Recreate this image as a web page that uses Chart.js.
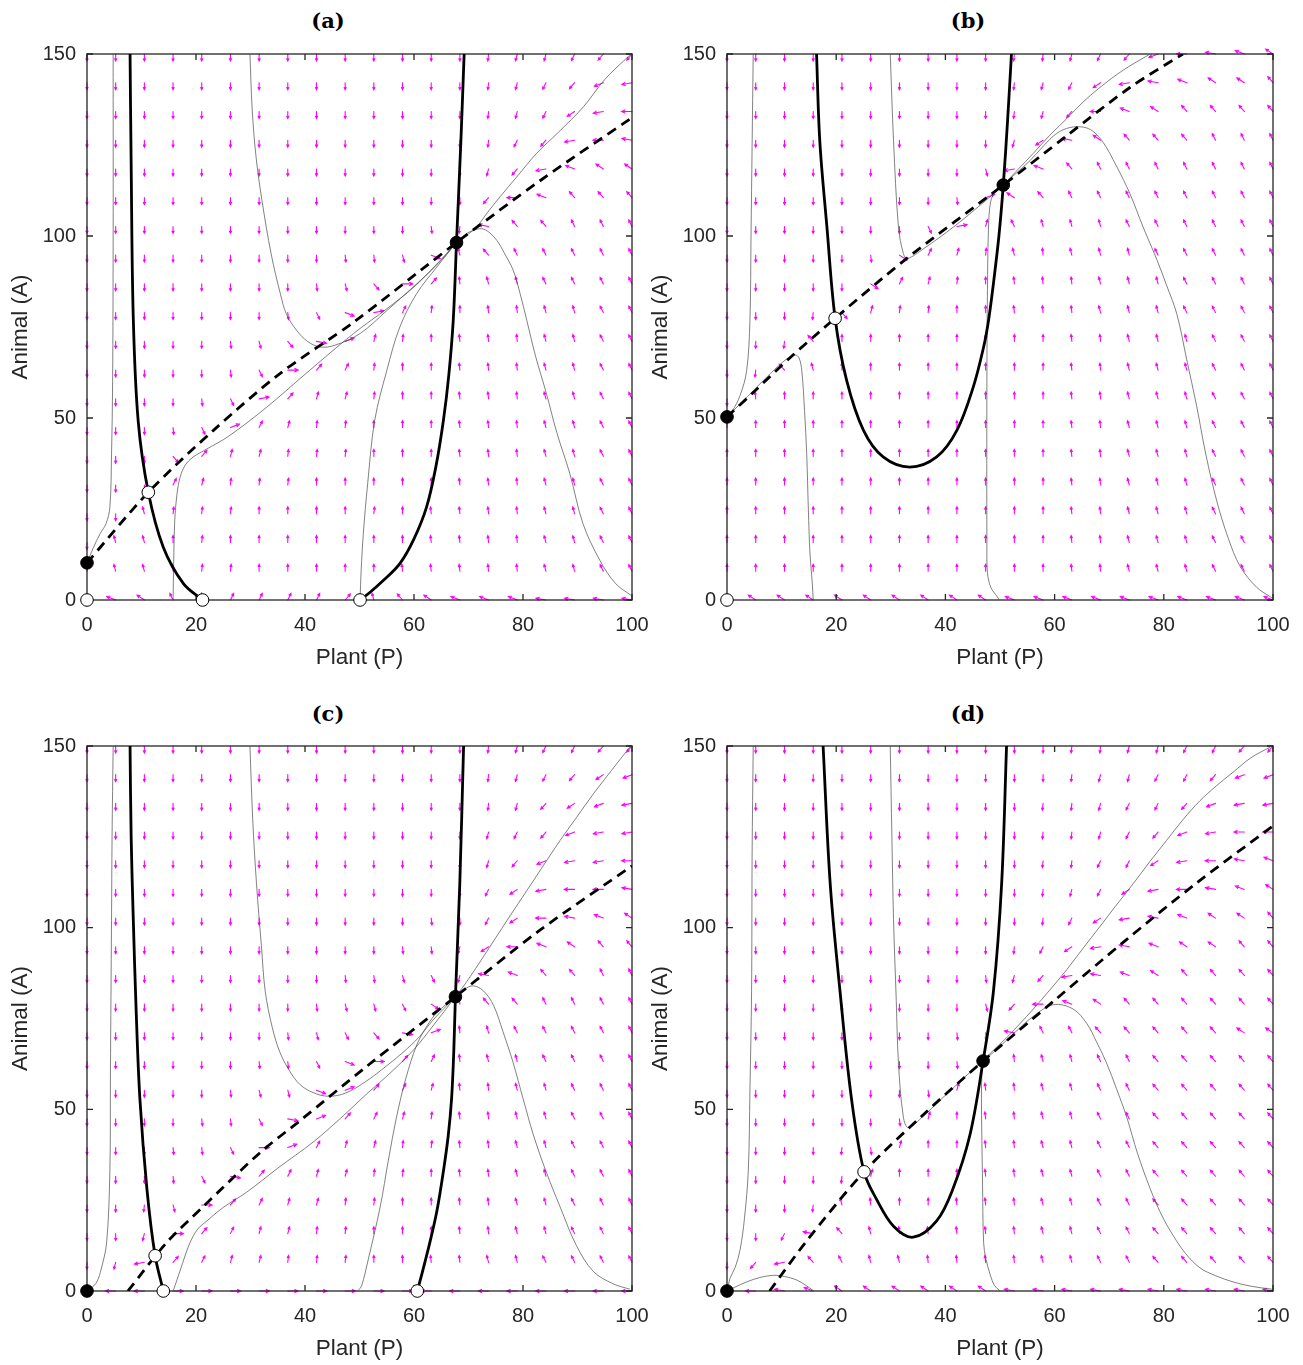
<!DOCTYPE html>
<html>
<head>
<meta charset="utf-8">
<script src="https://cdn.jsdelivr.net/npm/chart.js@4.4.0/dist/chart.umd.min.js"></script>
<style>
  body { margin: 0; background: #fff; width: 1303px; height: 1365px; position: relative; overflow: hidden; }
  canvas { position: absolute; }
  .ttl { position: absolute; font: bold 21px "DejaVu Serif", serif; color: #000; transform: translate(-50%, -50%); white-space: nowrap; }
</style>
</head>
<body>
<div class="ttl" style="left:328px;top:20px">(a)</div>
<div class="ttl" style="left:968px;top:20px">(b)</div>
<div class="ttl" style="left:328px;top:713px">(c)</div>
<div class="ttl" style="left:968px;top:713px">(d)</div>
<canvas id="pa" width="662" height="674" style="left:0;top:0"></canvas>
<canvas id="pb" width="663" height="674" style="left:640px;top:0"></canvas>
<canvas id="pc" width="662" height="673" style="left:0;top:692px"></canvas>
<canvas id="pd" width="663" height="673" style="left:640px;top:692px"></canvas>
<script>
/*
    Quiver grid (Plant P, Animal A)
*/
const gridP = [0, 5.26, 10.53, 15.79, 21.05, 26.32, 31.58, 36.84, 42.11, 47.37, 52.63, 57.89, 63.16, 68.42, 73.68, 78.95, 84.21, 89.47, 94.74, 100];
const gridA = [0, 7.89, 15.79, 23.68, 31.58, 39.47, 47.37, 55.26, 63.16, 71.05, 78.95, 86.84, 94.74, 102.63, 110.53, 118.42, 126.32, 134.21, 142.11, 150];

// direction codes -> angle (degrees) in the (P, A) plane
const arrowAngle = {
    D: -90, e: -86, f: -80, g: -72, h: -60, i: -45, j: -30, k: -15,
    E: -94, F: -100, G: -108, H: -120, I: -135, J: -150, K: -165,
    U: 90, p: 86, q: 80, r: 72, s: 60, t: 45, u: 30, w: 15,
    P: 94, Q: 100, R: 108, S: 120, T: 135, W: 150, X: 165,
    '>': 0, '<': 180
};

// rows from A = 150 (top) down to A = 0, columns P = 0 .. 100
const fieldA = [
    'DDDDDDDDDDDDDDEFFGHH',
    'DDDDDDDDDDDDDDEFGHJK',
    'DDDDDDDDDDDDDDEFGIK<',
    'DDDDDDDDDDDDDDEGHK<X',
    'DDDDDDDDDDDDDDFHKWTT',
    'DDDDDDDDDDDDDDH<WSSS',
    'DDDDDDDDDDDDeEXSSRRR',
    'DDDDDDDDDeefjQSRRRRR',
    'DDDDDDDDefh>sPQQRRRR',
    'DDDDDDDegjwrpUPPQQRR',
    'DDDDDefhkuqpUPPPQQRR',
    'DDDDDeg>srpUUPPPQQRR',
    'DDDDegwsqqpUUPPPQQRR',
    'DDDegurqppUUUPPPQQRR',
    'DDDhsqqpppUUUPPPQQRR',
    'DDDrqpppUUUUUPPPQQRR',
    'DDQpppUUUUpUPPPPQQRR',
    'DQQUpUUUUUUUPPPPQQRR',
    'UQQPppUUUUUPPPPPQQRR',
    '.WTRUrrrrsQSTWWWXXXX'
];
const fieldB = [
    'DDDDDDDDDDEEFGHJ<XWT',
    'DDDDDDDDDDEFGIKXWTTS',
    'DDDDDDDDDDEFH<WTSSSS',
    'DDDDDDDDDDFIXTSSSRRR',
    'DDDDDDDDDfKWSRRRRRRR',
    'DDDDDDDDeuTSRRRRRRRR',
    'DDDDDDDgwqRQQQRRRRRR',
    'DDDDDeirqpQPQQQRRRRR',
    'DDDDDirqpUPPPQQQRRRR',
    'DDDEhqppUUPPPQQQRRRR',
    'DDESUUUUUUUUPPQQQRRR',
    'DESQUUUUUUUUPPQQQRRR',
    'DPUUUUUUUUUUPPQQQRRR',
    'UUUUUUUUUUUUPPQQQRRR',
    'UUUUUUUUUUUUPPQQQRRR',
    'UUUUUUUUUUUUPPQQQRRR',
    'UUUUUUUUUUUUPPQQQRRR',
    'UUUUUUUUUUUUPPQQQRRR',
    'UUUUUUUUUUUUPPQQQRRR',
    '.TTTTTTTTTWWWWWWWWWW'
];
const fieldC = [
    'DDDDDDDDDDDDDDEFGGHH',
    'DDDDDDDDDDDDDDEFGHIJ',
    'DDDDDDDDDDDDDDEFHIJK',
    'DDDDDDDDDDDDDDFGHJKK',
    'DDDDDDDDDDDDDDFHJKK<',
    'DDDDDDDDDDDDDDGIK<<X',
    'DDDDDDDDDDDDeDGI<XWT',
    'DDDDDDDDDDDeeFI<WTSS',
    'DDDDDDDDDeefgFXWSSRR',
    'DDDDDDDDeffgiPSSRRRR',
    'DDDDDDDefghkuPQRRRRR',
    'DDDDDDeegj>srPQQRRRR',
    'DDDDDeffjusrqPPQQRRR',
    'DDDDeegkusrqpPPQQRRR',
    'DDDeeg>urqqppPPQQRRR',
    'DDDegksrqqppUPPQQRRR',
    'DDEf>srqqppUUPPQQRRR',
    'DDF>srqqppUUUPPQQRRR',
    'DFKsrqqpppUUPPQQRRRR',
    '.<<>>>>>>>>><<<<<<<<'
];
const fieldD = [
    'DDDDDDDDDDDDEEFFGGHH',
    'DDDDDDDDDDDDEFFGGHJJ',
    'DDDDDDDDDDDEEFGGHJKK',
    'DDDDDDDDDDDEEFGHJK<<',
    'DDDDDDDDDDDEEGGIK<XW',
    'DDDDDDDDDDDEFGIK<XWT',
    'DDDDDDDDDDDEGIKXWTTS',
    'DDDDDDDDDDEGIKXWTTSS',
    'DDDDDDDDDeFHKXWTSSSS',
    'DDDDDDDDDfH<WTSSSSSS',
    'DDDDDDDDeeXRRSSSSSTT',
    'DDDDDDDDePPQQRRSSSSS',
    'DDDDDDDeqPPQQRRSSSSS',
    'DDDDDDeqUPPQQRRSSSSS',
    'DDDDEeqUUPPQQRRSSSSS',
    'DDDDEqUUUPPQQRRSSSSS',
    'DDDEQPUUPPPQQRRSSSSS',
    'DDGXSQPPPPPQQRRSSSSS',
    'DHKSRQQPPPPQQRRSSSSS',
    '.<XWTTTTTTXXXXXXXXXX'
];

/*
    Panel (a)
*/
const aDashP = [0, 11.25, 23.2, 35.4, 48.9, 67.8, 83.7, 100];
const aDashA = [10.2, 29.6, 46.6, 62.2, 76.3, 98.2, 115.8, 132.5];
const aLeftP = [7.9, 8.1, 8.5, 9.4, 11.25, 14, 17.7, 21.2];
const aLeftA = [150, 120, 77, 49, 29.6, 14.5, 4.5, 0];
const aRightP = [50.1, 52, 54.4, 57.4, 60, 62.3, 64, 65.4, 66.4, 67.2, 67.8, 68.6, 69.2];
const aRightA = [0, 2.2, 5.4, 10, 16.8, 25.5, 36.5, 49.4, 62, 76.8, 98.2, 126, 150];
const aTrajP = [
    [4.8, 4.8, 4.7, 4.5, 4.2, 3.5, 2.4, 1.2, 0],
    [29.9, 30.3, 31, 32.1, 33.8, 35.5, 36.6, 38.5, 40.5, 42.8, 45.5, 50.1, 55, 60, 64, 67.8],
    [99.6, 95, 91.1, 86.5, 82.5, 79, 75.8, 73.5, 71.5, 69.5, 67.8],
    [99.9, 97, 94.1, 91, 88.6, 86.2, 84.3, 82.3, 80.7, 79.5, 78.2, 76.5, 75.2, 73.8, 72.4, 70.8, 69.4, 67.8],
    [50.1, 50.3, 50.7, 51.5, 52.8, 55, 57.4, 60.5, 64.2, 67.8],
    [15.8, 15.9, 16.1, 16.5, 17.1, 18, 19.5, 22, 26, 33, 40, 48.9, 55, 60, 64, 67.8]
];
const aTrajA = [
    [150, 100, 60, 40, 25.5, 21, 18.2, 14.5, 10.2],
    [150, 135, 122, 109.8, 95, 84, 78.5, 74, 71, 69.5, 70, 73.2, 79.5, 86.2, 91.8, 98.2],
    [149.7, 143, 135.5, 128.5, 122.7, 116.5, 110.8, 106.5, 102.5, 100, 98.2],
    [1.2, 4.5, 10.9, 21, 34.7, 46, 56.7, 67, 76.8, 84, 90.6, 95.5, 98.8, 101, 102, 101.5, 100.4, 98.2],
    [0, 8, 18.2, 32, 49.4, 63, 75, 84.2, 91.5, 98.2],
    [0, 10, 21.9, 29, 33.8, 37, 39.3, 41.5, 45, 53, 62, 73.2, 80, 86, 92, 98.2]
];
const aStableP = [0, 67.8], aStableA = [10.2, 98.2];
const aSaddleP = [0, 11.25, 21.2, 50.1], aSaddleA = [0, 29.6, 0, 0];

/*
    Panel (b)
*/
const bDashP = [0, 5, 11.5, 19.8, 32.9, 50.6, 62.2, 73.8, 83.5];
const bDashA = [50.3, 57.3, 66.5, 77.4, 93.8, 114, 127.5, 140.8, 150];
const bNullP = [16.4, 17, 18.3, 19.8, 21.9, 25, 28.6, 33.5, 38.4, 42.1, 45.1, 47, 47.9, 48.8, 49.8, 50.6, 51.4, 52.1];
const bNullA = [150, 126, 102.5, 77.4, 60.4, 46.6, 39.3, 36.5, 39.3, 46.6, 58.5, 69.5, 76.8, 87, 100, 114, 132, 150];
const bTrajP = [
    [4.8, 4.6, 4.4, 4.2, 3.6, 2.4, 1, 0],
    [15.8, 15.6, 15.2, 14.9, 14.6, 14.2, 13.7, 13.2, 12.5, 11, 8, 5, 2.5, 0],
    [29.9, 30.5, 31.4, 32.3, 33, 36, 41.5, 46, 48.5, 50.6],
    [49.9, 49.2, 48.3, 47.7, 47.6, 47.6, 47.7, 47.9, 48.3, 49.2, 50.6],
    [77.5, 72.5, 68.3, 65, 62.2, 59, 56.1, 53.3, 50.6],
    [99.8, 97, 94, 91.8, 89.7, 87.7, 86, 84.2, 82.4, 80.5, 78.7, 76.2, 73.8, 71.3, 68.9, 67, 65.3, 62.8, 60.4, 58, 55.5, 53, 50.6]
];
const bTrajA = [
    [150, 125, 100, 76.8, 63, 56.2, 52, 50.3],
    [0, 5, 12.7, 25, 40, 52, 63, 66.5, 67.3, 66.3, 62.3, 57.8, 54, 50.3],
    [150, 126.3, 102.5, 95.2, 93.8, 96.5, 102.5, 108, 111.2, 114],
    [0, 1.5, 3.5, 7.5, 15, 60, 85, 102.5, 109.5, 112.5, 114],
    [150, 145.5, 140.8, 136.5, 132.2, 127.5, 122.7, 118.3, 114],
    [0.6, 3.5, 9.2, 17, 27.2, 40, 53.4, 66, 78.5, 86.5, 93.6, 102.5, 111.6, 119.3, 125.7, 128.8, 129.9, 129.8, 128.2, 124.8, 120.7, 117.3, 114]
];
const bStableP = [0, 50.6], bStableA = [50.3, 114];
const bSaddleP = [0, 19.8], bSaddleA = [0, 77.4];

/*
    Panel (c)
*/
const cDashP = [7.5, 14.6, 21.3, 31.7, 39.1, 51.3, 67.6, 83.1, 100];
const cDashA = [0, 13.3, 23.2, 38, 46.9, 61.8, 81, 99.3, 117];
const cLeftP = [7.9, 8.1, 8.5, 9, 9.7, 11, 12.5, 14];
const cLeftA = [150, 125, 102, 78, 53, 28, 9.7, 0];
const cRightP = [60.6, 61.5, 62.9, 64.2, 65.4, 66.3, 66.9, 67.3, 67.6, 68.4, 69.1];
const cRightA = [0, 5, 13.3, 22, 33, 43, 53, 66, 81, 112, 150];
const cTrajP = [
    [4.8, 4.6, 4.5, 4.3, 4.2, 3.6, 2.6, 1.8, 0.8, 0],
    [29.9, 30.4, 31.1, 32, 32.7, 34, 35.4, 37.2, 39.1, 41.5, 44.3, 47.5, 51.3, 55, 58, 61, 63.5, 67.6],
    [15.8, 16.5, 17.5, 18.9, 20.3, 22, 25, 29.3, 35, 41.5, 46.5, 51.3, 56, 60, 63.5, 67.6],
    [49.7, 50.4, 51.5, 53.8, 55.3, 56.8, 58.5, 60.5, 62.4, 64.2, 67.6],
    [99.6, 96.5, 92.9, 89.8, 86.8, 84.2, 81.9, 80, 78.2, 76.3, 74.6, 72.8, 70.9, 69.2, 67.6],
    [99.6, 96.2, 92.9, 89.8, 86.8, 83.7, 80.7, 77.6, 74.6, 72.3, 70.3, 68.8, 67.6]
];
const cTrajA = [
    [150, 125, 102, 60, 33.1, 13.3, 6, 2.5, 0.8, 0],
    [150, 130, 112.1, 95, 82.5, 72.5, 65.7, 60.5, 56.8, 54.6, 53.6, 54.5, 57.8, 62, 65.7, 70, 74.6, 81],
    [0, 3, 7.5, 13.3, 17, 19.3, 23, 27.2, 33.8, 41, 47.5, 54.2, 60.5, 66.5, 73, 81],
    [0, 1.5, 8, 23.2, 36, 47.9, 58.5, 67.7, 73, 76.6, 81],
    [0.5, 2, 5.4, 12.5, 23.2, 33, 43, 53, 62.8, 71.5, 78.6, 82.5, 84, 83, 81],
    [149.7, 143.2, 136.8, 130.3, 124, 117, 110.2, 103.2, 96.3, 91, 86.5, 83.3, 81]
];
const cStableP = [0, 67.6], cStableA = [0, 81];
const cSaddleP = [12.5, 14, 60.6], cSaddleA = [9.7, 0, 0];

/*
    Panel (d)
*/
const dDashP = [7.8, 14.6, 25.1, 36, 46.9, 60, 73, 86, 100];
const dDashA = [0, 13.8, 32.8, 48.6, 63.3, 80, 96.5, 112.3, 128];
const dNullP = [17.6, 18.9, 20.7, 22.8, 25.1, 27.4, 30.5, 34.1, 38.4, 41.4, 44.5, 46.9, 48.8, 50.3, 51.2];
const dNullA = [150, 112.1, 82.5, 52.9, 32.8, 25.2, 17.8, 14.8, 19.3, 28.2, 43, 63.3, 82.5, 112.1, 150];
const dTrajP = [
    [4.8, 4.6, 4.5, 4.2, 3.9, 3.2, 2.4, 1.5, 0.55, 0],
    [15.9, 14.5, 12.8, 10.5, 8.5, 6, 3.6, 1.5, 0],
    [29.9, 30.2, 30.5, 31, 31.4, 32.3, 33.2, 36, 39, 41.4, 44, 46.9],
    [50, 49, 48.2, 47.4, 47, 46.8, 46.6, 46.7, 46.9],
    [99.5, 96, 92.7, 89.6, 86.6, 83.5, 80.5, 77.4, 74.4, 71.3, 68.3, 65.2, 62.2, 59.1, 56.1, 53.6, 51.2, 48.8, 46.9],
    [99.8, 96, 92.7, 89.5, 86.6, 84, 81.7, 79.5, 77.5, 75.2, 73.2, 71.3, 69.5, 67.7, 65.9, 63.4, 59.8, 56.1, 52.4, 49.5, 46.9]
];
const dTrajA = [
    [150, 120, 82.5, 55, 33.1, 20, 11.4, 6.5, 3.5, 0],
    [0, 1.5, 3, 4, 4.3, 3.7, 2.5, 1.1, 0],
    [150, 125, 102.3, 80, 62.8, 47.9, 45, 48.2, 52.5, 55.8, 59.5, 63.3],
    [0, 1.5, 4.5, 9, 13.3, 30, 52.9, 60, 63.3],
    [149.7, 146.8, 142.8, 139, 134.9, 129.7, 124, 118.1, 112.1, 106.2, 100.3, 94.3, 88.4, 82.8, 77.6, 73.5, 69.7, 66.3, 63.3],
    [0.5, 1.3, 2.5, 4.2, 6.4, 10.3, 15.3, 21.2, 28.2, 37.8, 47.9, 55.8, 62.8, 68.5, 73.6, 77.6, 78.8, 75.6, 70.7, 66.6, 63.3]
];
const dStableP = [0, 46.9], dStableA = [0, 63.3];
const dSaddleP = [25.1], dSaddleA = [32.8];

/*
    Drawing
*/
const ARROW_LEN = 1.9; // arrow length in data units
const AXIS_COLOR = '#262626';

// quiver field under the curves, then the box with inward ticks
const phasePlugin = {
    id: 'phase',
    beforeDatasetsDraw(chart, args, opts) {
        const { ctx, chartArea: area, scales: { x, y } } = chart;
        ctx.save();
        ctx.strokeStyle = '#ff00ff';
        ctx.lineWidth = 1.1;
        ctx.lineCap = 'round';
        opts.field.forEach((row, r) => {
            const a = gridA[gridA.length - 1 - r];
            [...row].forEach((code, i) => {
                const deg = arrowAngle[code];
                if (deg === undefined || i >= gridP.length) return;
                const p = gridP[i];
                const t = deg * Math.PI / 180;
                const x0 = x.getPixelForValue(p), y0 = y.getPixelForValue(a);
                const x1 = x.getPixelForValue(p + ARROW_LEN * Math.cos(t));
                const y1 = y.getPixelForValue(a + ARROW_LEN * Math.sin(t));
                const ang = Math.atan2(y1 - y0, x1 - x0);
                const h = 0.35 * Math.hypot(x1 - x0, y1 - y0);
                ctx.beginPath();
                ctx.moveTo(x0, y0);
                ctx.lineTo(x1, y1);
                ctx.moveTo(x1 - h * Math.cos(ang - 0.45), y1 - h * Math.sin(ang - 0.45));
                ctx.lineTo(x1, y1);
                ctx.lineTo(x1 - h * Math.cos(ang + 0.45), y1 - h * Math.sin(ang + 0.45));
                ctx.stroke();
            });
        });
        ctx.strokeStyle = AXIS_COLOR;
        ctx.lineWidth = 1.3;
        ctx.lineCap = 'butt';
        ctx.strokeRect(area.left, area.top, area.right - area.left, area.bottom - area.top);
        ctx.beginPath();
        x.ticks.forEach(tk => {
            const px = x.getPixelForValue(tk.value);
            ctx.moveTo(px, area.bottom); ctx.lineTo(px, area.bottom - 6);
            ctx.moveTo(px, area.top); ctx.lineTo(px, area.top + 6);
        });
        y.ticks.forEach(tk => {
            const py = y.getPixelForValue(tk.value);
            ctx.moveTo(area.left, py); ctx.lineTo(area.left + 6, py);
            ctx.moveTo(area.right, py); ctx.lineTo(area.right - 6, py);
        });
        ctx.stroke();
        ctx.restore();
    }
};

function pts(ps, as) {
    return ps.map((p, i) => ({ x: p, y: as[i] }));
}

function curve(ps, as, style) {
    return Object.assign({ data: pts(ps, as), showLine: true, pointRadius: 0, fill: false }, style);
}

function dots(ps, as, fillColor) {
    return {
        data: pts(ps, as), showLine: false, clip: false, order: 0,
        pointRadius: 6.3, pointBackgroundColor: fillColor,
        pointBorderColor: '#000', pointBorderWidth: 1
    };
}

const trajStyle = { borderColor: 'rgba(80,80,80,0.9)', borderWidth: 0.8, tension: 0.35, order: 3 };
const nullStyle = { borderColor: '#000', borderWidth: 2.8, tension: 0.35, order: 2 };
const dashStyle = { borderColor: '#000', borderWidth: 2.8, borderDash: [10, 6.5], tension: 0.3, order: 2 };

function drawPanel(id, field, dash, nulls, trajP, trajA, stable, saddle) {
    const datasets = [
        dots(stable[0], stable[1], '#000'),
        dots(saddle[0], saddle[1], '#fff'),
        curve(dash[0], dash[1], dashStyle)
    ];
    nulls.forEach(n => datasets.push(curve(n[0], n[1], nullStyle)));
    trajP.forEach((tp, k) => datasets.push(curve(tp, trajA[k], trajStyle)));

    const tickFont = { family: 'Liberation Sans', size: 20 };
    const titleFont = { family: 'Liberation Sans', size: 22.5 };
    return new Chart(document.getElementById(id), {
        type: 'scatter',
        data: { datasets: datasets },
        options: {
            animation: false,
            responsive: false,
            events: [],
            layout: { padding: { top: 54, right: 30, bottom: 0, left: 0 } },
            plugins: {
                legend: { display: false },
                tooltip: { enabled: false },
                phase: { field: field }
            },
            scales: {
                x: {
                    type: 'linear', min: 0, max: 100,
                    grid: { display: false, drawTicks: false },
                    border: { display: false },
                    ticks: { stepSize: 20, padding: 13, maxRotation: 0, color: AXIS_COLOR, font: tickFont },
                    title: { display: true, text: 'Plant (P)', color: AXIS_COLOR, font: titleFont, padding: { top: 0, bottom: 3 } },
                    afterFit: (s) => { s.height = 74; }
                },
                y: {
                    type: 'linear', min: 0, max: 150,
                    grid: { display: false, drawTicks: false },
                    border: { display: false },
                    ticks: { stepSize: 50, padding: 11, color: AXIS_COLOR, font: tickFont },
                    title: { display: true, text: 'Animal (A)', color: AXIS_COLOR, font: titleFont, padding: { top: 7.5, bottom: 0 } },
                    afterFit: (s) => { s.width = 87; }
                }
            }
        },
        plugins: [phasePlugin]
    });
}

drawPanel('pa', fieldA, [aDashP, aDashA], [[aLeftP, aLeftA], [aRightP, aRightA]], aTrajP, aTrajA,
    [aStableP, aStableA], [aSaddleP, aSaddleA]);
drawPanel('pb', fieldB, [bDashP, bDashA], [[bNullP, bNullA]], bTrajP, bTrajA,
    [bStableP, bStableA], [bSaddleP, bSaddleA]);
drawPanel('pc', fieldC, [cDashP, cDashA], [[cLeftP, cLeftA], [cRightP, cRightA]], cTrajP, cTrajA,
    [cStableP, cStableA], [cSaddleP, cSaddleA]);
drawPanel('pd', fieldD, [dDashP, dDashA], [[dNullP, dNullA]], dTrajP, dTrajA,
    [dStableP, dStableA], [dSaddleP, dSaddleA]);
</script>
</body>
</html>
